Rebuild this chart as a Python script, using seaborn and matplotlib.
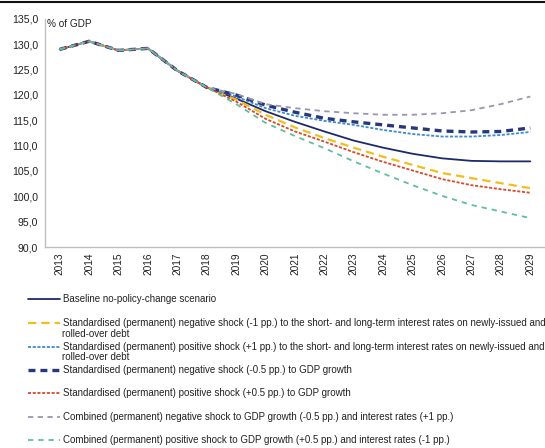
import matplotlib
matplotlib.use("Agg")
import matplotlib.pyplot as plt
from matplotlib.lines import Line2D
from matplotlib.ticker import FuncFormatter
import seaborn as sns
import pandas as pd

years = list(range(2013, 2030))
history = [129.0, 130.6, 128.8, 129.2, 124.8, 121.5]

baseline = [119.3, 116.8, 114.7, 112.8, 111.0, 109.6, 108.4, 107.5, 107.0, 106.9, 106.9]
neg_interest = [119.1, 116.1, 113.6, 111.5, 109.6, 107.8, 106.2, 104.6, 103.6, 102.6, 101.6]
pos_interest = [119.7, 117.4, 115.9, 114.9, 114.1, 113.1, 112.3, 111.8, 111.8, 112.1, 112.7]
neg_gdp = [120.0, 118.0, 116.6, 115.4, 114.7, 114.1, 113.5, 112.9, 112.7, 112.8, 113.5]
pos_gdp = [118.7, 115.3, 112.8, 110.8, 108.7, 106.8, 105.1, 103.4, 102.2, 101.4, 100.7]
comb_neg = [120.2, 118.2, 117.4, 116.8, 116.4, 116.1, 116.1, 116.4, 117.0, 118.2, 119.7]
comb_pos = [118.2, 114.5, 111.9, 109.5, 106.9, 104.5, 102.2, 100.1, 98.3, 97.0, 95.7]

labels = [
    "Baseline no-policy-change scenario",
    "Standardised (permanent) negative shock (-1 pp.) to the short- and long-term interest rates on newly-issued and\nrolled-over debt",
    "Standardised (permanent) positive shock (+1 pp.) to the short- and long-term interest rates on newly-issued and\nrolled-over debt",
    "Standardised (permanent) negative shock (-0.5 pp.) to GDP growth",
    "Standardised (permanent) positive shock (+0.5 pp.) to GDP growth",
    "Combined (permanent) negative shock to GDP growth (-0.5 pp.) and interest rates (+1 pp.)",
    "Combined (permanent) positive shock to GDP growth (+0.5 pp.) and interest rates (-1 pp.)",
]
y_ticks = [90, 95, 100, 105, 110, 115, 120, 125, 130, 135]

series = [baseline, neg_interest, pos_interest, neg_gdp, pos_gdp, comb_neg, comb_pos]
colors = ["#1d2a6b", "#f0bf1f", "#3b8bd6", "#27387a", "#d9482b", "#9696b4", "#5fbe9b"]
widths = [1.3, 1.6, 1.3, 2.4, 1.3, 1.3, 1.3]
styles = ["-", (0, (6, 3.6)), (0, (2.2, 1.2)), (0, (5, 3.6)), (0, (2.2, 1.2)),
          (0, (3.8, 3.2)), (0, (3.8, 3.6))]

sns.set_theme(style="white")
plt.rcParams["font.family"] = ["Liberation Sans", "DejaVu Sans"]
plt.rcParams["lines.scale_dashes"] = False

fig = plt.figure(figsize=(5.45, 4.48), dpi=100)
ax = fig.add_axes([45 / 545, 1 - 247 / 448, 500 / 545, 228 / 448])

for lab, vals, c, w, ls in zip(labels, series, colors, widths, styles):
    df = pd.DataFrame({"x": list(range(len(years))), "y": history + vals})
    sns.lineplot(data=df, x="x", y="y", color=c, linewidth=w, linestyle=ls, ax=ax,
                 legend=False)

ax.set_xlim(-0.5, len(years) - 0.5)
ax.set_ylim(90, 135)
ax.set_yticks(y_ticks)
ax.yaxis.set_major_formatter(FuncFormatter(lambda v, p: f"{v:.1f}".replace(".", ",")))
ax.set_xticks(range(len(years)))
ax.set_xticklabels([str(y) for y in years], rotation=90)
ax.tick_params(axis="both", length=0, colors="#222222")
ax.tick_params(axis="y", pad=5, labelsize=7.6)
ax.tick_params(axis="x", pad=4, labelsize=7.3)
ax.set_xlabel("")
ax.set_ylabel("")
for s in ["top", "right"]:
    ax.spines[s].set_visible(False)
for s in ["left", "bottom"]:
    ax.spines[s].set_color("#bfbfbf")
    ax.spines[s].set_linewidth(1.0)
ax.text(0.004, 1.0, "% of GDP", transform=ax.transAxes, fontsize=7.2, va="top", ha="left",
        color="#222222")

# top rule
fig.add_artist(Line2D([0, 1], [1 - 2 / 448, 1 - 2 / 448], color="#111111", lw=1.5,
                      transform=fig.transFigure))

# legend entries
ypos = [299, 323, 347, 370, 393, 417, 440]
for lab, c, w, ls, yp in zip(labels, colors, widths, styles, ypos):
    first, *rest = lab.split("\n")
    h = Line2D([], [], color=c, lw=w, linestyle=ls)
    fig.legend(handles=[h], labels=[first], loc="center left",
               bbox_to_anchor=(28 / 545, 1 - yp / 448), frameon=False, fontsize=7,
               handlelength=3.3, handletextpad=0.25, borderpad=0, borderaxespad=0,
               labelcolor="#222222")
    for r in rest:
        fig.text(62 / 545, 1 - (yp + 10.5) / 448, r, fontsize=7, va="center", ha="left",
                 color="#222222")

fig.savefig("out.png", dpi=100)
